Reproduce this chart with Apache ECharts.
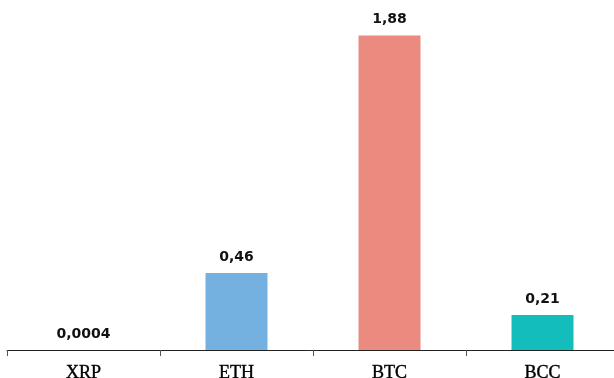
<!DOCTYPE html>
<html>
<head>
<meta charset="utf-8">
<script src="https://cdn.jsdelivr.net/npm/echarts@6/dist/echarts.min.js"></script>
<style>html,body{margin:0;padding:0;background:#fff}#c{width:614px;height:378px}</style>
</head>
<body>
<div id="c"></div>
<script>
const categories = ['XRP', 'ETH', 'BTC', 'BCC'];
const values = [0.0004, 0.46, 1.88, 0.21];
const colors = ['#74b0e0', '#74b0e0', '#eb8a7e', '#12bdbc'];

const chart = echarts.init(document.getElementById('c'), null, {renderer: 'canvas'});
chart.setOption({
  animation: false,
  grid: {left: 7, right: -5, top: 15.5, bottom: 28, containLabel: false, outerBoundsMode: 'none'},
  xAxis: {
    type: 'category',
    data: categories,
    axisLine: {lineStyle: {color: '#222', width: 1}},
    axisTick: {show: true, length: 6, lineStyle: {color: '#555'}},
    axisLabel: {margin: 14, fontFamily: 'Liberation Serif', fontSize: 18, fontWeight: 'normal', color: '#000',
      textBorderColor: '#000', textBorderWidth: 0.4}
  },
  yAxis: {
    type: 'value', min: 0, max: 2, show: false,
    splitLine: {show: false}
  },
  series: [{
    type: 'bar',
    barWidth: '40.5%',
    data: values.map((v, i) => ({value: v, itemStyle: {color: colors[i]}})),
    label: {
      show: true, position: 'top', distance: 9,
      fontFamily: 'DejaVu Sans', fontWeight: 'bold', fontSize: 14, color: '#111',
      formatter: p => String(p.value).replace('.', ',')
    }
  }]
});
</script>
</body>
</html>
